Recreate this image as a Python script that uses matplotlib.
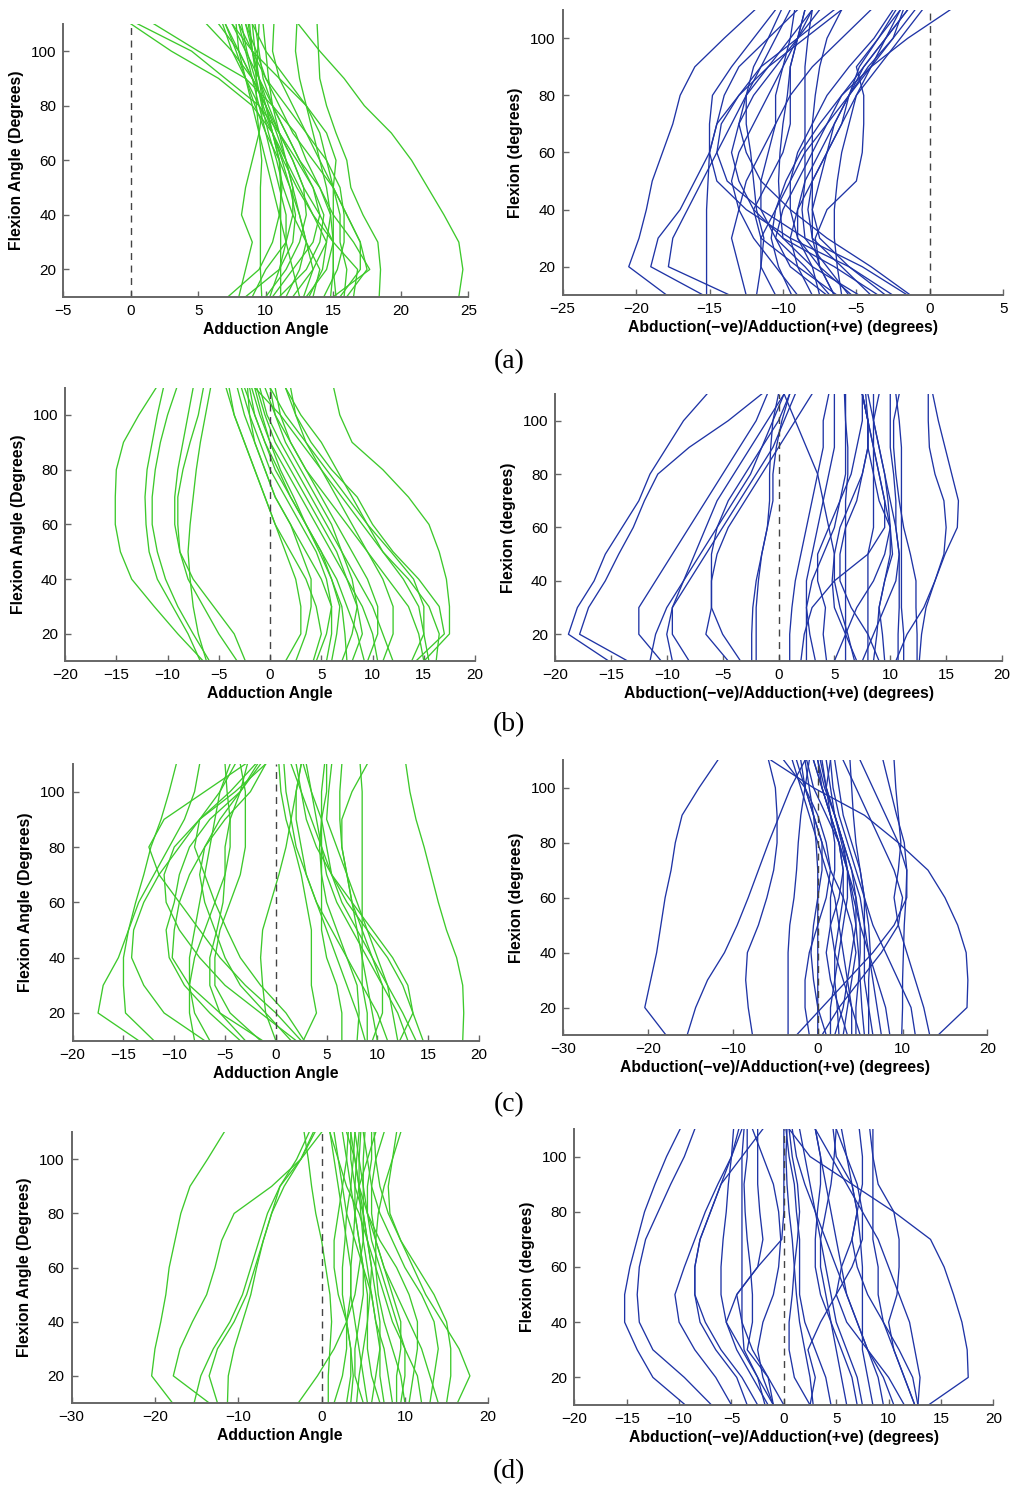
import matplotlib.pyplot as plt

# flexion angles at which each trial's adduction angle is sampled
flexion = [10, 20, 30, 40, 50, 60, 70, 80, 90, 100, 110]

# (a) left: adduction angle per trial
trials_a_left = [
    [24.3, 24.6, 24.3, 23.2, 22.0, 20.8, 19.3, 17.3, 15.8, 14.0, 12.4],
    [18.4, 18.5, 18.3, 17.2, 16.3, 16.0, 15.2, 14.5, 14.0, 13.9, 13.8],
    [11.5, 12.5, 13.0, 12.5, 11.8, 11.2, 10.5, 9.0, 6.5, 3.0, 0.0],
    [13.0, 14.5, 15.0, 14.0, 12.8, 12.0, 11.0, 9.5, 7.0, 4.5, 0.5],
    [15.0, 17.7, 16.5, 15.0, 14.0, 13.0, 12.2, 10.5, 8.5, 5.0, 1.7],
    [7.2, 9.5, 10.5, 11.0, 11.2, 11.0, 10.5, 10.0, 9.0, 7.5, 5.6],
    [9.7, 9.6, 9.6, 9.6, 9.6, 9.7, 9.5, 9.3, 9.3, 9.4, 9.5],
    [11.1, 11.1, 11.1, 11.1, 11.1, 11.0, 10.5, 10.0, 9.5, 9.2, 9.0],
    [14.3, 15.3, 15.8, 15.8, 15.5, 14.5, 13.0, 11.5, 10.0, 9.0, 8.0],
    [15.5, 17.0, 17.0, 16.0, 15.0, 13.5, 12.0, 11.0, 10.0, 9.3, 8.5],
    [10.0, 11.5, 12.5, 13.0, 12.8, 12.0, 11.0, 10.0, 9.0, 8.0, 7.0],
    [12.0, 13.5, 14.5, 14.8, 14.0, 12.5, 11.5, 10.5, 9.5, 8.5, 7.5],
    [8.0, 8.5, 9.0, 8.2, 8.5, 9.0, 9.5, 9.8, 9.5, 9.0, 8.5],
    [13.5, 14.0, 13.0, 12.5, 12.0, 11.5, 11.0, 10.5, 10.2, 10.0, 9.8],
    [15.8, 16.0, 15.5, 15.5, 15.0, 14.0, 13.0, 12.0, 11.0, 10.5, 10.6],
    [10.5, 12.0, 13.5, 14.0, 13.5, 12.5, 11.5, 10.5, 9.8, 9.5, 9.2],
    [12.5, 12.0, 11.5, 11.0, 10.5, 10.0, 9.5, 9.0, 8.5, 8.0, 7.8],
    [9.0, 10.0, 11.5, 12.0, 12.0, 11.5, 10.8, 10.0, 9.0, 8.0, 6.5],
    [16.5, 16.8, 15.0, 13.5, 12.5, 11.5, 10.5, 9.5, 8.5, 7.5, 6.8],
    [14.8, 15.0, 15.0, 14.8, 14.5, 14.0, 13.5, 13.0, 12.5, 12.2, 12.3],
    [12.8, 13.5, 13.0, 12.0, 11.3, 10.8, 10.2, 9.7, 9.3, 9.0, 8.8],
    [11.0, 13.0, 14.0, 14.3, 13.5, 12.3, 11.0, 10.2, 9.5, 9.0, 8.7],
    [10.3, 11.0, 11.5, 11.5, 11.0, 10.5, 10.0, 9.5, 9.0, 8.5, 8.0],
    [13.2, 14.2, 14.5, 13.5, 12.3, 11.3, 10.5, 9.8, 9.2, 8.6, 8.2],
    [8.5, 11.0, 12.0, 12.2, 11.8, 11.0, 10.0, 9.2, 8.5, 7.8, 7.0],
    [16.0, 17.5, 17.0, 16.0, 15.0, 14.5, 14.0, 13.0, 11.0, 9.0, 7.5],
    [15.2, 15.0, 15.0, 15.0, 15.0, 15.2, 14.5, 13.0, 11.5, 10.0, 9.0],
]

# (a) right
trials_a_right = [
    [-17.9, -20.5, -19.8, -19.3, -18.9, -18.2, -17.5, -17.0, -16.0, -14.0, -11.9],
    [-15.4, -19.0, -18.5, -17.0, -16.0, -15.0, -14.5, -14.0, -13.0, -11.0, -9.0],
    [-13.6, -17.8, -17.5, -16.5, -15.5, -14.5, -13.5, -12.5, -11.5, -10.5, -9.5],
    [-15.2, -15.2, -15.2, -15.2, -15.1, -15.0, -15.0, -14.8, -13.5, -12.0, -10.5],
    [-1.5, -4.6, -8.5, -11.5, -13.8, -14.5, -14.2, -13.0, -11.5, -9.0, -6.5],
    [-2.5, -5.5, -9.5, -12.5, -14.5, -15.0, -14.5, -13.0, -11.0, -8.5, -6.0],
    [-3.5, -6.5, -10.0, -12.0, -13.0, -13.5, -13.0, -12.0, -10.5, -9.0, -7.5],
    [-1.3, -4.0, -7.0, -9.5, -11.5, -12.5, -13.0, -12.5, -11.0, -9.5, -8.0],
    [-9.4, -10.3, -10.8, -10.5, -9.8, -8.8, -7.5, -6.0, -4.0, -1.5, 1.4],
    [-10.5, -11.5, -11.5, -10.5, -9.5, -8.5, -7.0, -5.5, -4.0, -2.5, -1.0],
    [-7.0, -9.5, -10.5, -10.0, -9.0, -8.0, -7.0, -6.0, -4.5, -3.0, -2.0],
    [-8.0, -9.0, -9.5, -9.0, -8.5, -7.5, -6.5, -5.5, -4.2, -2.5, -1.8],
    [-6.5, -7.5, -8.0, -8.0, -8.0, -8.0, -8.0, -7.8, -7.5, -7.0, -6.0],
    [-5.5, -7.0, -8.5, -8.7, -8.5, -8.5, -8.5, -8.5, -8.5, -8.3, -8.0],
    [-4.8, -8.0, -10.0, -10.2, -10.3, -10.2, -10.0, -9.7, -9.5, -9.0, -8.5],
    [-6.5, -7.5, -7.8, -7.0, -5.0, -4.6, -4.5, -4.5, -5.0, -3.5, -2.0],
    [-11.8, -11.5, -11.3, -11.8, -12.0, -12.2, -12.5, -12.5, -12.0, -11.0, -10.1],
    [-9.0, -10.5, -12.0, -13.0, -13.5, -13.0, -12.0, -11.0, -10.0, -9.0, -8.0],
    [-6.3, -9.0, -11.5, -12.0, -11.0, -10.0, -9.5, -9.5, -9.5, -9.0, -8.5],
    [-6.0, -6.3, -6.5, -6.5, -6.3, -6.0, -5.5, -5.0, -4.0, -3.0, -1.5],
    [-5.3, -7.5, -9.0, -9.0, -8.0, -7.0, -6.0, -5.5, -4.8, -3.5, -2.3],
    [-7.5, -8.0, -9.0, -9.5, -9.5, -9.0, -8.0, -7.0, -5.5, -3.8, -2.5],
    [-3.0, -5.5, -7.5, -8.0, -7.5, -7.0, -6.5, -5.5, -4.5, -3.0, -1.5],
    [-12.5, -13.0, -13.5, -13.0, -12.5, -11.5, -10.5, -9.5, -8.0, -6.0, -4.0],
    [-6.8, -8.5, -10.5, -11.5, -11.5, -11.0, -10.5, -10.5, -10.0, -9.5, -9.2],
    [-4.0, -6.0, -8.0, -8.3, -8.0, -7.0, -6.0, -5.0, -3.5, -2.0, -0.5],
]

# (b) left
trials_b_left = [
    [-6.5, -9.0, -11.3, -13.5, -14.6, -15.1, -15.1, -15.0, -14.3, -12.8, -11.1],
    [-6.8, -8.0, -9.5, -11.0, -11.8, -12.1, -12.2, -12.0, -11.5, -11.0, -10.4],
    [-5.9, -7.5, -9.0, -10.2, -11.0, -11.5, -11.5, -11.2, -10.7, -10.0, -9.1],
    [-2.4, -3.5, -5.5, -7.5, -8.8, -9.3, -9.3, -9.0, -8.5, -8.0, -7.5],
    [-3.2, -5.0, -6.5, -8.0, -8.8, -9.0, -9.0, -8.5, -7.8, -7.0, -6.5],
    [-6.2, -7.0, -7.5, -7.8, -8.0, -7.8, -7.5, -7.2, -6.8, -6.3, -5.8],
    [15.0, 17.5, 17.5, 17.2, 16.5, 15.5, 13.5, 11.0, 8.0, 6.8, 6.2],
    [14.2, 17.0, 16.5, 14.5, 12.0, 10.0, 8.5, 6.0, 4.0, 2.5, 1.5],
    [15.5, 15.0, 15.0, 14.0, 11.8, 9.5, 7.5, 5.5, 3.5, 1.5, 0.0],
    [13.8, 15.0, 14.5, 13.0, 11.0, 9.0, 7.0, 5.0, 3.0, 1.0, -1.5],
    [16.2, 16.5, 15.5, 13.5, 11.0, 9.5, 8.0, 6.5, 5.0, 3.0, 1.5],
    [4.2, 5.0, 4.5, 3.5, 2.0, 0.5, -0.5, -1.5, -2.5, -3.5, -4.3],
    [1.5, 3.0, 3.0, 2.5, 1.5, 0.5, -0.5, -1.5, -2.5, -3.5, -4.0],
    [5.5, 6.0, 6.0, 5.0, 3.5, 2.0, 0.5, -0.5, -1.5, -2.5, -3.2],
    [7.5, 7.3, 7.0, 6.0, 4.8, 3.5, 2.0, 0.5, -0.5, -1.5, -2.5],
    [9.2, 8.5, 7.5, 6.5, 5.0, 3.5, 2.0, 0.8, -0.5, -1.5, -2.0],
    [10.5, 10.0, 9.0, 7.5, 6.0, 4.5, 3.0, 1.5, 0.0, -1.0, -1.8],
    [8.0, 9.0, 8.5, 7.5, 6.5, 5.0, 3.5, 2.0, 0.5, -0.5, -1.3],
    [12.0, 11.0, 10.0, 8.5, 7.0, 5.5, 4.0, 2.5, 1.0, -0.3, -1.0],
    [4.5, 5.5, 6.0, 5.5, 4.5, 3.0, 1.5, 0.0, -1.0, -2.0, -2.8],
    [9.5, 10.5, 10.5, 9.5, 8.0, 6.5, 5.0, 3.5, 2.0, 0.5, -0.5],
    [7.0, 8.0, 8.5, 8.0, 7.0, 6.0, 4.5, 3.0, 1.5, 0.5, 0.0],
    [11.0, 12.0, 12.0, 11.0, 9.5, 7.5, 5.5, 3.5, 2.0, 1.0, 0.5],
    [15.0, 14.5, 13.5, 11.5, 9.5, 8.0, 6.5, 5.0, 3.5, 2.5, 2.0],
    [2.5, 3.5, 4.0, 4.0, 3.0, 2.0, 0.5, -0.5, -1.5, -2.0, -2.2],
    [6.0, 6.5, 6.8, 6.0, 5.0, 3.5, 2.3, 1.0, 0.0, -0.8, -1.5],
]

# (b) right
trials_b_right = [
    [-15.2, -18.8, -18.0, -16.5, -15.5, -14.0, -12.5, -11.5, -10.0, -8.5, -6.4],
    [-13.5, -17.8, -17.0, -15.5, -14.3, -13.0, -12.0, -10.8, -8.0, -4.5, -1.5],
    [-11.5, -11.0, -10.0, -8.5, -7.0, -5.5, -4.0, -2.5, -1.5, -0.5, 0.5],
    [-9.5, -10.0, -9.5, -8.0, -6.5, -5.0, -3.5, -2.0, -0.5, 0.5, 1.5],
    [-8.0, -9.5, -9.5, -8.5, -7.5, -6.5, -5.5, -4.0, -2.5, -1.0, 0.5],
    [-10.5, -12.5, -12.5, -11.0, -9.5, -8.0, -6.5, -5.0, -3.5, -2.0, -1.0],
    [-4.5, -6.5, -6.0, -6.0, -5.5, -4.5, -3.0, -1.5, 0.0, 1.5, 3.0],
    [-3.4, -5.0, -6.0, -6.0, -6.0, -5.5, -4.5, -3.0, -1.5, 0.0, 1.0],
    [-2.4, -2.4, -2.3, -2.0, -1.5, -1.0, -0.5, -0.5, -0.2, 0.3, 1.0],
    [-2.0, -2.0, -2.0, -1.8, -1.5, -1.0, -0.8, -0.8, -0.7, -0.5, 0.0],
    [1.0, 1.0, 1.2, 1.5, 2.0, 2.5, 3.0, 3.5, 4.0, 4.0, 4.5],
    [2.5, 2.5, 2.5, 2.5, 3.0, 3.5, 4.0, 4.5, 5.0, 5.0, 5.0],
    [3.3, 2.8, 2.5, 3.0, 4.0, 5.0, 5.5, 6.0, 6.0, 6.0, 5.9],
    [4.3, 4.0, 4.2, 3.5, 3.5, 4.5, 5.5, 6.5, 7.0, 7.5, 7.5],
    [6.0, 6.0, 6.0, 6.0, 6.0, 6.0, 6.0, 6.2, 6.2, 6.0, 6.0],
    [6.8, 6.2, 5.5, 5.0, 5.0, 5.5, 6.5, 7.5, 8.0, 8.0, 7.8],
    [8.0, 8.0, 8.0, 8.0, 8.0, 8.5, 8.5, 8.5, 8.5, 8.5, 8.5],
    [8.5, 8.8, 9.0, 9.5, 10.0, 10.0, 9.5, 9.0, 8.5, 8.0, 7.5],
    [9.5, 9.3, 9.0, 9.5, 10.2, 10.0, 9.8, 9.5, 9.0, 8.5, 8.0],
    [10.7, 10.7, 10.8, 10.8, 10.8, 10.5, 10.5, 10.3, 10.0, 10.0, 10.0],
    [11.2, 11.2, 11.0, 11.0, 11.0, 11.0, 11.0, 11.0, 11.0, 10.8, 10.5],
    [12.4, 12.4, 12.3, 12.3, 11.8, 11.2, 10.8, 10.5, 10.3, 10.3, 10.8],
    [12.6, 12.8, 13.2, 14.0, 14.9, 16.0, 16.1, 15.5, 14.9, 14.3, 13.8],
    [10.5, 11.5, 13.0, 14.0, 14.8, 15.0, 14.8, 14.0, 13.5, 13.4, 13.4],
    [2.0, 2.3, 3.0, 5.0, 8.0, 9.5, 9.5, 9.0, 8.5, 8.0, 7.5],
    [7.0, 6.0, 5.0, 4.8, 5.0, 4.5, 4.0, 3.5, 2.5, 1.5, 0.5],
    [9.0, 8.0, 6.5, 5.5, 5.5, 6.0, 7.0, 7.5, 8.0, 8.0, 7.5],
    [5.0, 6.0, 7.0, 8.5, 9.5, 10.0, 9.0, 8.5, 8.0, 8.0, 7.5],
    [7.5, 8.5, 9.5, 10.5, 10.8, 10.5, 10.0, 9.5, 9.0, 8.5, 9.0],
]

# (c) left
trials_c_left = [
    [-13.5, -17.5, -17.0, -15.5, -14.5, -13.8, -13.0, -12.3, -11.3, -10.5, -9.8],
    [-12.0, -14.8, -15.0, -15.0, -14.5, -13.5, -12.0, -10.5, -9.0, -8.0, -7.5],
    [-7.0, -11.0, -13.0, -14.2, -14.0, -13.0, -11.5, -9.5, -7.5, -5.5, -4.0],
    [-3.5, -6.5, -9.0, -10.5, -10.8, -10.0, -9.5, -8.5, -6.5, -3.5, -1.5],
    [-1.3, -5.5, -8.5, -10.2, -10.0, -9.5, -8.5, -7.0, -5.0, -2.5, -1.0],
    [-6.5, -8.0, -8.5, -8.5, -8.0, -7.5, -7.0, -6.5, -6.0, -5.5, -4.5],
    [-8.0, -8.5, -8.5, -8.0, -7.0, -6.0, -5.0, -4.5, -4.5, -4.8, -5.0],
    [-3.0, -5.5, -6.5, -6.5, -5.8, -5.2, -5.0, -5.0, -4.5, -3.5, -2.8],
    [-1.5, -4.5, -6.0, -6.0, -5.5, -4.5, -3.5, -3.0, -3.0, -3.0, -3.5],
    [2.5, 0.0, -3.0, -5.5, -7.5, -9.5, -11.5, -12.5, -11.0, -7.0, -3.0],
    [2.0, -1.5, -5.0, -7.5, -9.5, -10.8, -11.0, -10.0, -7.5, -4.0, -1.0],
    [2.8, 1.0, -1.5, -3.5, -4.8, -6.0, -7.0, -8.0, -7.5, -4.5, -2.0],
    [1.5, -1.0, -3.5, -5.0, -6.0, -7.0, -7.5, -7.0, -5.5, -3.5, -1.8],
    [0.0, -1.0, -1.3, -1.5, -1.3, -0.5, 0.3, 1.0, 1.5, 2.0, 2.5],
    [18.4, 18.5, 18.4, 17.8, 16.8, 16.0, 15.3, 14.6, 13.8, 13.2, 12.8],
    [14.5, 13.5, 12.5, 11.0, 9.0, 7.0, 5.5, 4.5, 3.5, 2.5, 1.5],
    [12.2, 13.5, 13.0, 11.5, 9.5, 7.5, 5.5, 4.0, 3.0, 2.5, 2.0],
    [13.0, 12.0, 10.5, 9.0, 7.5, 6.0, 5.0, 4.5, 4.0, 3.5, 3.0],
    [9.0, 9.0, 8.5, 8.5, 8.5, 8.5, 8.5, 8.5, 8.5, 8.5, 8.3],
    [8.0, 8.2, 8.0, 7.0, 6.0, 5.0, 4.5, 4.3, 4.5, 5.0, 5.0],
    [6.5, 6.5, 6.0, 5.0, 4.5, 4.5, 4.5, 4.5, 4.5, 4.5, 4.8],
    [11.0, 10.0, 8.5, 7.0, 5.5, 4.0, 3.0, 2.5, 2.0, 2.0, 2.5],
    [9.5, 10.5, 10.5, 9.5, 8.0, 6.5, 5.5, 5.0, 4.5, 3.5, 2.7],
    [2.7, 4.0, 3.5, 3.5, 3.5, 3.0, 2.5, 1.8, 1.0, 0.5, 0.3],
    [10.0, 9.5, 9.0, 8.5, 8.0, 7.5, 7.0, 6.5, 6.5, 7.5, 9.0],
    [12.0, 11.5, 11.0, 10.0, 9.0, 8.0, 7.0, 6.0, 5.0, 5.2, 5.5],
    [8.8, 8.0, 7.0, 6.0, 5.0, 4.0, 3.0, 2.0, 1.5, 1.0, 0.8],
    [13.8, 12.5, 11.0, 9.5, 8.5, 7.5, 7.0, 6.5, 6.3, 6.3, 6.5],
]

# (c) right
trials_c_right = [
    [-17.9, -20.4, -19.7, -19.0, -18.5, -18.0, -17.3, -16.8, -16.0, -14.0, -11.8],
    [-15.4, -14.4, -13.0, -11.0, -9.5, -8.2, -7.0, -5.8, -4.5, -3.2, -1.5],
    [-7.7, -8.2, -8.5, -8.3, -7.0, -6.0, -5.2, -4.8, -4.8, -5.0, -5.8],
    [-3.5, -3.5, -3.5, -3.5, -3.3, -2.8, -2.5, -2.3, -2.0, -1.5, -1.0],
    [14.2, 17.6, 17.7, 17.5, 16.5, 15.0, 13.0, 9.5, 5.5, -0.5, -5.5],
    [9.9, 10.0, 10.0, 10.1, 10.2, 10.4, 10.5, 10.2, 9.3, 8.5, 7.7],
    [13.2, 12.5, 11.5, 10.5, 9.5, 9.0, 9.5, 9.8, 9.5, 9.2, 9.0],
    [-2.5, 0.5, 3.5, 6.5, 9.0, 10.5, 10.5, 9.5, 8.0, 6.5, 5.0],
    [0.5, 2.5, 5.0, 7.5, 9.5, 10.0, 9.0, 7.5, 6.0, 4.5, 3.0],
    [0.0, 0.0, 0.0, 0.0, 0.0, 0.0, 0.0, -0.2, -0.5, -1.0, -1.5],
    [1.0, 0.0, -0.5, -0.8, -0.5, 0.0, 0.5, 0.5, -0.5, -1.5, -2.0],
    [2.5, 2.3, 2.0, 2.0, 2.5, 3.0, 3.0, 2.5, 1.0, -0.5, -1.3],
    [3.0, 3.5, 4.0, 4.5, 4.0, 3.0, 1.5, 0.5, -0.5, -1.5, -2.5],
    [4.5, 4.5, 4.8, 5.0, 5.0, 4.5, 3.5, 2.5, 1.5, 0.5, 0.0],
    [5.5, 5.2, 5.0, 4.8, 4.5, 4.0, 3.5, 2.5, 1.5, 0.5, -0.5],
    [7.5, 7.0, 6.5, 6.0, 5.5, 5.0, 4.0, 3.0, 2.0, 1.0, 0.3],
    [6.5, 6.0, 5.5, 5.5, 5.5, 5.5, 5.0, 4.0, 3.0, 2.5, 2.0],
    [2.0, 3.0, 3.5, 4.0, 4.5, 4.5, 4.0, 3.0, 2.0, 1.0, 0.5],
    [11.5, 11.0, 9.5, 8.0, 6.5, 5.5, 4.5, 3.5, 2.5, 1.8, 1.5],
    [4.0, 4.0, 3.5, 3.0, 2.5, 2.0, 1.0, 0.0, -1.0, -2.0, -3.0],
    [6.0, 6.0, 6.0, 6.2, 6.0, 5.5, 5.0, 4.5, 4.2, 4.0, 3.8],
    [-1.0, -1.5, -1.5, -1.0, 0.0, 1.0, 1.5, 1.0, 0.0, -1.5, -4.0],
    [1.5, 1.5, 2.0, 2.5, 3.0, 3.5, 3.5, 3.0, 2.0, 0.8, 0.0],
    [3.5, 2.5, 1.5, 1.0, 1.5, 2.5, 3.0, 2.5, 1.5, 0.5, -0.5],
    [5.0, 4.0, 3.0, 2.0, 1.5, 1.5, 2.0, 2.0, 1.5, 1.0, 1.5],
    [8.5, 8.0, 7.0, 6.0, 5.0, 4.2, 3.5, 2.8, 2.0, 1.5, 1.0],
]

# (d) left
trials_d_left = [
    [-17.9, -20.4, -20.0, -19.3, -18.7, -18.3, -17.6, -16.9, -15.8, -13.7, -11.7],
    [-13.5, -17.8, -17.0, -15.5, -13.8, -12.8, -12.0, -10.5, -6.0, -2.5, -1.0],
    [-15.3, -14.5, -13.0, -11.0, -9.5, -8.5, -7.5, -6.5, -5.0, -2.5, 0.0],
    [-11.3, -11.2, -10.5, -9.5, -8.5, -7.8, -7.0, -6.0, -4.5, -2.5, -0.8],
    [-12.5, -13.5, -12.5, -10.5, -9.0, -8.0, -7.0, -6.0, -5.0, -3.0, -1.5],
    [-2.8, -0.5, 1.5, 3.0, 4.0, 4.5, 5.0, 5.0, 5.0, 5.0, 5.2],
    [0.8, 0.8, 1.0, 1.2, 1.0, 0.5, 0.0, -0.7, -1.2, -1.6, -2.1],
    [16.3, 17.8, 16.5, 14.5, 12.5, 11.0, 9.5, 8.2, 8.0, 8.5, 9.5],
    [15.0, 15.5, 15.5, 15.0, 13.5, 11.5, 9.5, 8.0, 7.0, 6.5, 6.3],
    [13.0, 13.5, 14.0, 13.5, 12.0, 10.0, 8.5, 7.0, 6.0, 5.5, 5.0],
    [10.5, 11.0, 11.5, 11.5, 10.5, 9.0, 7.0, 5.5, 4.5, 4.0, 3.5],
    [9.0, 9.0, 9.5, 9.5, 8.5, 7.5, 6.5, 5.5, 5.0, 4.5, 4.0],
    [7.5, 7.0, 7.0, 7.0, 6.5, 6.0, 5.5, 5.0, 4.5, 4.0, 3.0],
    [6.0, 6.5, 7.0, 6.5, 6.0, 5.0, 4.0, 3.0, 2.5, 2.0, 1.5],
    [5.0, 4.0, 4.0, 4.5, 5.0, 5.0, 4.5, 4.0, 3.5, 3.0, 2.5],
    [3.0, 3.5, 3.5, 3.0, 2.5, 2.5, 2.8, 3.0, 3.5, 3.8, 4.0],
    [4.2, 4.5, 5.0, 5.5, 5.5, 5.0, 4.5, 4.0, 4.5, 5.5, 6.5],
    [8.5, 8.0, 7.5, 6.5, 6.0, 5.5, 5.0, 4.7, 4.5, 4.5, 4.7],
    [12.0, 11.5, 10.0, 8.5, 7.5, 6.5, 5.5, 4.5, 3.0, 2.0, 1.0],
    [3.5, 3.8, 3.5, 3.0, 2.0, 1.5, 1.5, 2.0, 2.5, 3.0, 3.2],
    [10.0, 9.5, 8.5, 7.5, 6.8, 6.5, 6.5, 6.8, 7.5, 8.5, 9.0],
    [7.0, 6.0, 5.5, 5.5, 5.8, 6.0, 5.5, 5.0, 4.0, 3.5, 3.5],
    [1.5, 2.5, 3.0, 3.0, 3.5, 3.5, 3.0, 2.5, 2.0, 1.5, 1.0],
    [9.5, 10.0, 10.0, 9.0, 8.0, 7.0, 6.0, 5.5, 5.5, 6.0, 6.0],
    [14.0, 13.0, 12.0, 10.5, 9.0, 7.5, 6.5, 6.0, 6.0, 6.5, 7.5],
    [5.5, 5.0, 4.5, 4.0, 3.5, 3.5, 3.8, 4.0, 4.0, 4.2, 4.5],
]

# (d) right
trials_d_right = [
    [-9.4, -12.5, -14.0, -15.2, -15.2, -14.7, -14.0, -13.3, -12.3, -11.2, -9.9],
    [-6.9, -9.5, -12.5, -13.8, -14.0, -13.8, -13.2, -12.0, -10.8, -9.5, -8.5],
    [-5.0, -6.5, -8.5, -10.0, -10.4, -9.5, -8.5, -7.5, -6.3, -5.0, -4.0],
    [-2.5, -4.0, -6.0, -7.5, -8.5, -8.5, -8.0, -7.0, -6.0, -5.0, -4.3],
    [-1.5, -3.0, -4.5, -5.5, -6.0, -6.0, -5.8, -5.5, -5.3, -5.0, -4.8],
    [-1.0, -2.5, -3.8, -4.0, -4.0, -4.0, -4.0, -4.0, -4.0, -4.0, -3.8],
    [0.0, -1.5, -3.5, -3.0, -3.0, -3.2, -3.5, -3.7, -3.8, -3.5, -3.5],
    [-1.8, -2.5, -4.0, -5.5, -4.5, -2.5, -2.0, -2.3, -2.5, -2.5, -2.5],
    [-1.0, -1.5, -3.0, -4.0, -4.5, -2.5, -0.2, 0.0, 0.0, 0.0, 0.0],
    [13.8, 17.6, 17.5, 17.0, 16.2, 15.3, 14.0, 10.5, 6.5, 2.5, 0.5],
    [-3.5, -4.5, -6.5, -8.0, -8.5, -8.5, -8.0, -7.0, -6.0, -4.0, -2.0],
    [12.5, 11.5, 10.5, 10.0, 10.8, 11.0, 11.0, 10.5, 9.0, 8.5, 8.2],
    [12.8, 12.3, 11.0, 9.5, 8.0, 7.0, 6.5, 7.0, 7.5, 7.5, 7.2],
    [12.5, 11.5, 10.5, 9.5, 9.0, 9.0, 8.5, 8.5, 8.5, 8.5, 8.5],
    [11.5, 10.0, 8.0, 6.0, 5.0, 5.5, 6.5, 7.0, 6.5, 5.0, 4.7],
    [2.5, 3.0, 2.3, 3.5, 5.0, 6.5, 7.5, 7.5, 7.0, 6.0, 5.0],
    [10.5, 9.5, 8.0, 7.0, 6.0, 5.0, 4.0, 3.0, 2.0, 1.2, 0.8],
    [8.5, 8.0, 7.5, 7.5, 7.5, 7.5, 7.3, 7.0, 6.5, 6.0, 5.5],
    [9.5, 9.0, 8.0, 7.0, 6.0, 5.5, 5.0, 4.5, 4.0, 3.5, 3.0],
    [4.5, 4.0, 3.0, 2.0, 1.5, 1.5, 1.5, 1.2, 1.0, 0.5, 0.2],
    [2.8, 2.5, 2.0, 1.5, 1.2, 1.0, 1.3, 1.5, 1.3, 0.8, 0.5],
    [7.5, 7.0, 6.0, 5.0, 4.5, 4.0, 3.5, 3.0, 2.5, 2.0, 1.5],
    [6.0, 5.5, 5.0, 4.5, 4.0, 3.5, 3.5, 4.0, 4.5, 4.8, 5.0],
    [12.8, 13.0, 12.5, 12.0, 11.0, 10.0, 9.0, 7.5, 6.0, 4.5, 3.0],
    [2.5, 1.0, 0.5, 0.5, 0.8, 1.0, 0.8, 0.5, 0.3, 0.2, 0.3],
    [-1.0, -2.0, -2.5, -2.0, -1.0, -0.5, -0.3, -0.5, -1.0, -2.0, -3.0],
    [7.0, 6.5, 5.5, 4.5, 3.5, 3.0, 3.0, 3.2, 3.5, 3.5, 3.0],
]

xlim_a_left, xlim_a_right = (-5, 25), (-25, 5)
xlim_b_left, xlim_b_right = (-20, 20), (-20, 20)
xlim_c_left, xlim_c_right = (-20, 20), (-30, 20)
xlim_d_left, xlim_d_right = (-30, 20), (-20, 20)

GREEN = '#3dc92b'
BLUE = '#1f34a6'
label_left_x = 'Adduction Angle'
label_left_y = 'Flexion Angle (Degrees)'
label_right_x = 'Abduction(\u2212ve)/Adduction(+ve) (degrees)'
label_right_y = 'Flexion (degrees)'

plt.rcParams['font.family'] = ['Liberation Sans', 'DejaVu Sans']

fig = plt.figure(figsize=(10.18, 14.89), dpi=100)


def panel(rect, trials, color, xlim, xstep, xlabel, ylabel):
    ax = fig.add_axes(rect)
    for xs in trials:
        ax.plot(xs, flexion, color=color, lw=0.95, solid_joinstyle='round')
    ax.plot([0, 0], [10, 110], color='#444444', lw=1.0, ls=(0, (5, 4)))
    ax.set_xlim(*xlim)
    ax.set_ylim(10, 110)
    ax.set_xticks(range(xlim[0], xlim[1] + 1, xstep))
    ax.set_yticks([20, 40, 60, 80, 100])
    for side in ('top', 'right'):
        ax.spines[side].set_visible(False)
    for side in ('left', 'bottom'):
        ax.spines[side].set_color('#666666')
        ax.spines[side].set_linewidth(1.4)
    ax.tick_params(direction='in', length=4, width=1, color='#666666',
                   labelsize=11, pad=5)
    ax.set_xlabel(xlabel, fontsize=11.3, fontweight='bold', labelpad=3)
    ax.set_ylabel(ylabel, fontsize=11.3, fontweight='bold', labelpad=5)
    return ax


panel([0.0622, 0.8007, 0.3978, 0.1833], trials_a_left, GREEN, xlim_a_left, 5,
      label_left_x, label_left_y)
panel([0.5527, 0.8017, 0.4328, 0.1918], trials_a_right, BLUE, xlim_a_right, 5,
      label_right_x, label_right_y)
panel([0.0639, 0.5559, 0.4028, 0.1838], trials_b_left, GREEN, xlim_b_left, 5,
      label_left_x, label_left_y)
panel([0.5452, 0.5561, 0.4391, 0.1793], trials_b_right, BLUE, xlim_b_right, 5,
      label_right_x, label_right_y)
panel([0.0714, 0.3011, 0.3991, 0.1858], trials_c_left, GREEN, xlim_c_left, 5,
      label_left_x, label_left_y)
panel([0.5534, 0.3049, 0.4165, 0.1845], trials_c_right, BLUE, xlim_c_right, 10,
      label_right_x, label_right_y)
panel([0.0704, 0.0578, 0.4092, 0.1818], trials_d_left, GREEN, xlim_d_left, 10,
      label_left_x, label_left_y)
panel([0.5642, 0.0564, 0.4116, 0.1854], trials_d_right, BLUE, xlim_d_right, 5,
      label_right_x, label_right_y)

for tag, ypix in (('(a)', 362), ('(b)', 725), ('(c)', 1105), ('(d)', 1472)):
    fig.text(509 / 1018, 1 - ypix / 1489, tag, ha='center', va='center',
             fontsize=20, family='Liberation Serif')

fig.savefig('out.png', dpi=100)
